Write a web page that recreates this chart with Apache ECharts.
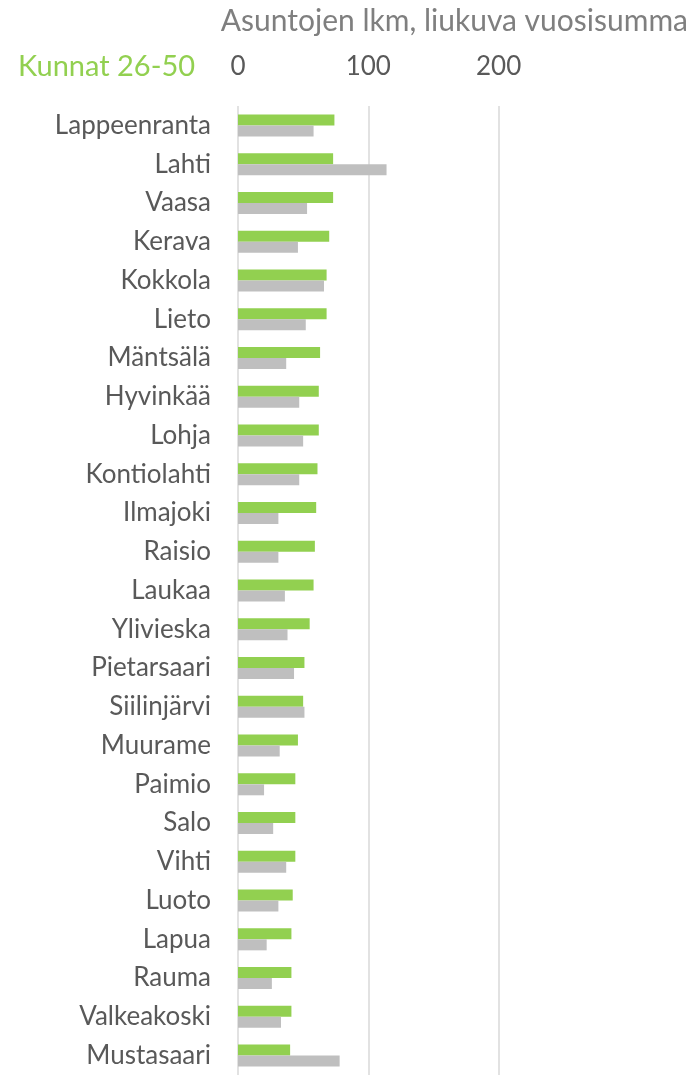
<!DOCTYPE html>
<html>
<head>
<meta charset="utf-8">
<script src="https://cdn.jsdelivr.net/npm/echarts@6/dist/echarts.min.js"></script>
<style>
html,body{margin:0;padding:0;background:#fff;}
#chart{width:697px;height:1075px;}
</style>
</head>
<body>
<div id="chart"></div>
<script>
const categories = ["Lappeenranta","Lahti","Vaasa","Kerava","Kokkola","Lieto","Mäntsälä","Hyvinkää","Lohja","Kontiolahti","Ilmajoki","Raisio","Laukaa","Ylivieska","Pietarsaari","Siilinjärvi","Muurame","Paimio","Salo","Vihti","Luoto","Lapua","Rauma","Valkeakoski","Mustasaari"];
const greenValues = [74,73,73,70,68,68,63,62,62,61,60,59,58,55,51,50,46,44,44,44,42,41,41,41,40];
const grayValues = [58,114,53,46,66,52,37,47,50,47,31,31,36,38,43,51,32,20,27,37,31,22,26,33,78];
const xTicks = [0,100,200];
const titleText = "Asuntojen lkm, liukuva vuosisumma";
const groupText = "Kunnat 26-50";

const FONT = "Lato";
const chart = echarts.init(document.getElementById('chart'), null, {renderer:'canvas'});
chart.setOption({
  animation:false,
  backgroundColor:'#ffffff',
  graphic:[
    {type:'text', style:{x:688, y:21, text:titleText, align:'right', verticalAlign:'middle', fill:'#7f7f7f', font:'30px '+FONT}},
    {type:'text', style:{x:18, y:67, text:groupText, align:'left', verticalAlign:'middle', fill:'#92d050', font:'29px '+FONT}}
  ],
  grid:{left:238, top:106, width:260.6, height:969, containLabel:false},
  xAxis:{
    type:'value', position:'top', min:xTicks[0], max:xTicks[xTicks.length-1], interval:100,
    axisLine:{show:false}, axisTick:{show:false},
    axisLabel:{color:'#595959', fontSize:26, fontFamily:FONT, margin:39, verticalAlign:'middle'},
    splitLine:{show:true, lineStyle:{color:'#d9d9d9', width:1.5}}
  },
  yAxis:{
    type:'category', inverse:true, data:categories,
    axisLine:{show:false}, axisTick:{show:false},
    axisLabel:{color:'#595959', fontSize:26, fontFamily:FONT, margin:27}
  },
  series:[
    {type:'bar', data:greenValues, barWidth:11, barGap:'0%', itemStyle:{color:'#92d050'}},
    {type:'bar', data:grayValues, barWidth:11, barGap:'0%', itemStyle:{color:'#bfbfbf'}}
  ]
});
</script>
</body>
</html>
